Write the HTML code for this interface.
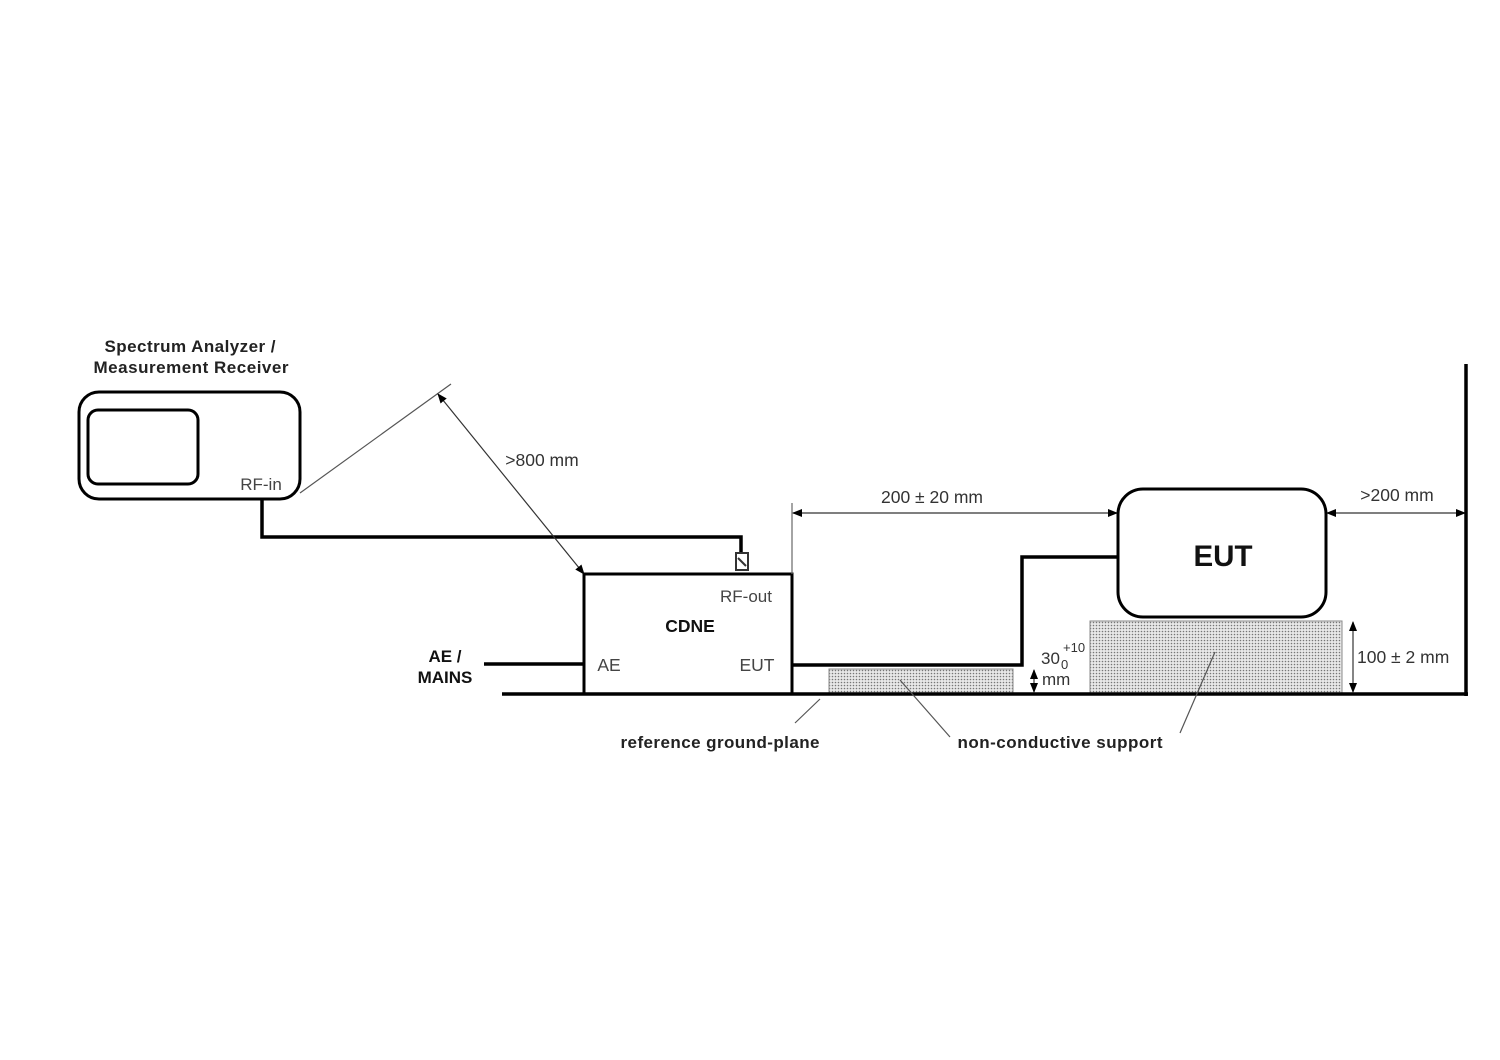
<!DOCTYPE html>
<html><head><meta charset="utf-8"><style>html,body{margin:0;padding:0;background:#fff}svg{display:block}</style></head>
<body>
<svg width="1500" height="1060" viewBox="0 0 1500 1060" xmlns="http://www.w3.org/2000/svg" font-family="Liberation Sans, Arial, sans-serif">
<defs>
<pattern id="dots" width="3" height="3" patternUnits="userSpaceOnUse">
<rect width="3" height="3" fill="#e8e8e8"/><circle cx="1.5" cy="1.5" r="0.8" fill="#777"/>
</pattern>
<marker id="ah" markerWidth="10" markerHeight="8" refX="9" refY="4" orient="auto-start-reverse" markerUnits="userSpaceOnUse">
<path d="M0,0 L10,4 L0,8 z" fill="#000"/>
</marker>
</defs>
<rect width="1500" height="1060" fill="#fff"/>
<text x="190" y="352" font-size="17" font-weight="bold" text-anchor="middle" fill="#222" textLength="171">Spectrum Analyzer /</text>
<text x="191" y="373" font-size="17" font-weight="bold" text-anchor="middle" fill="#222" textLength="195">Measurement Receiver</text>
<rect x="79" y="392" width="221" height="107" rx="20" fill="none" stroke="#000" stroke-width="3"/>
<rect x="88" y="410" width="110" height="74" rx="10" fill="none" stroke="#000" stroke-width="3"/>
<text x="261" y="490" font-size="17" text-anchor="middle" fill="#444">RF-in</text>
<polyline points="262,499 262,537 741,537 741,554" fill="none" stroke="#000" stroke-width="3.5"/>
<rect x="736" y="553" width="12" height="17" fill="#fff" stroke="#333" stroke-width="2"/>
<line x1="738" y1="558" x2="746" y2="566" stroke="#333" stroke-width="2"/>
<line x1="300" y1="493" x2="451" y2="384" stroke="#555" stroke-width="1.2"/>
<line x1="438" y1="394" x2="584" y2="574" stroke="#333" stroke-width="1.2" marker-start="url(#ah)" marker-end="url(#ah)"/>
<text x="542" y="466" font-size="17.5" text-anchor="middle" fill="#333">&gt;800 mm</text>
<rect x="584" y="574" width="208" height="120" fill="#fff" stroke="#000" stroke-width="3"/>
<text x="746" y="602" font-size="17" text-anchor="middle" fill="#444">RF-out</text>
<text x="690" y="632" font-size="17.5" font-weight="bold" text-anchor="middle" fill="#111">CDNE</text>
<text x="609" y="671" font-size="17.5" text-anchor="middle" fill="#444">AE</text>
<text x="757" y="671" font-size="17.5" text-anchor="middle" fill="#444">EUT</text>
<text x="445" y="662" font-size="17" font-weight="bold" text-anchor="middle" fill="#111">AE /</text>
<text x="445" y="683" font-size="17" font-weight="bold" text-anchor="middle" fill="#111">MAINS</text>
<line x1="484" y1="664" x2="584" y2="664" stroke="#000" stroke-width="3.5"/>
<line x1="792" y1="574" x2="792" y2="503" stroke="#666" stroke-width="1.2"/>
<line x1="793" y1="513" x2="1117" y2="513" stroke="#333" stroke-width="1.2" marker-start="url(#ah)" marker-end="url(#ah)"/>
<text x="932" y="503" font-size="17.5" text-anchor="middle" fill="#333">200 ± 20 mm</text>
<polyline points="792,665 1022,665 1022,557 1117,557" fill="none" stroke="#000" stroke-width="3.5"/>
<rect x="829" y="669" width="184" height="24" fill="url(#dots)" stroke="#888" stroke-width="1"/>
<rect x="1090" y="621" width="252" height="72" fill="url(#dots)" stroke="#888" stroke-width="1"/>
<rect x="1118" y="489" width="208" height="128" rx="25" fill="#fff" stroke="#000" stroke-width="3"/>
<text x="1223" y="566" font-size="29.5" font-weight="bold" text-anchor="middle" fill="#111">EUT</text>
<line x1="1327" y1="513" x2="1465" y2="513" stroke="#333" stroke-width="1.2" marker-start="url(#ah)" marker-end="url(#ah)"/>
<text x="1397" y="501" font-size="17.5" text-anchor="middle" fill="#333">&gt;200 mm</text>
<line x1="1353" y1="622" x2="1353" y2="692" stroke="#333" stroke-width="1.2" marker-start="url(#ah)" marker-end="url(#ah)"/>
<text x="1357" y="663" font-size="17.5" fill="#333">100 ± 2 mm</text>
<line x1="1034" y1="670" x2="1034" y2="692" stroke="#333" stroke-width="1.2" marker-start="url(#ah)" marker-end="url(#ah)"/>
<text x="1041" y="664" font-size="17" fill="#333">30</text>
<text x="1061" y="669" font-size="13" fill="#333">0</text>
<text x="1063" y="652" font-size="13" fill="#333">+10</text>
<text x="1042" y="685" font-size="17" fill="#333">mm</text>
<line x1="502" y1="694" x2="1468" y2="694" stroke="#000" stroke-width="3.5"/>
<line x1="1466" y1="364" x2="1466" y2="696" stroke="#000" stroke-width="3.5"/>
<line x1="820" y1="699" x2="795" y2="723" stroke="#555" stroke-width="1.2"/>
<line x1="900" y1="680" x2="950" y2="737" stroke="#555" stroke-width="1.2"/>
<line x1="1215" y1="652" x2="1180" y2="733" stroke="#555" stroke-width="1.2"/>
<text x="720" y="748" font-size="17" font-weight="bold" text-anchor="middle" fill="#222" textLength="199">reference ground-plane</text>
<text x="1060" y="748" font-size="17" font-weight="bold" text-anchor="middle" fill="#222" textLength="205">non-conductive support</text>
</svg>
</body></html>
